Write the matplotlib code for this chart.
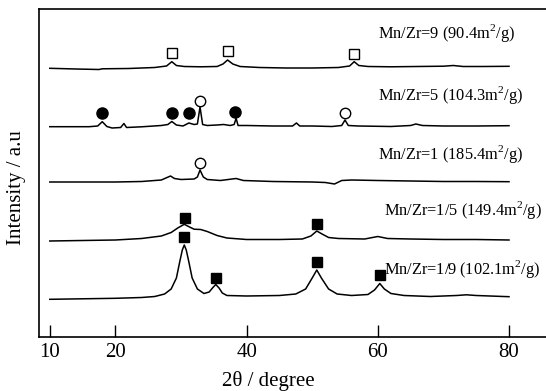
import matplotlib
matplotlib.use("Agg")
import matplotlib.pyplot as plt

plt.rcParams['font.family'] = ['Liberation Serif', 'DejaVu Serif']
plt.rcParams['mathtext.fontset'] = 'custom'
plt.rcParams['mathtext.rm'] = 'Liberation Serif'

# ---- data (2theta in degree, intensity in a.u. incl. vertical offset) ----
theta_9 = [10, 14, 17.5, 18, 22, 26, 27.8, 28.6, 29.3, 30.5, 33, 35.5, 36.4, 37.1, 37.9, 39, 42, 46, 50,
           54, 55.7, 56.4, 57.1, 58.5, 62, 66, 70, 71.5, 73, 76, 80]
int_9 = [268.7, 268, 267.5, 268.2, 268.5, 269.5, 271, 275.3, 271.5, 270.5, 270.2, 270.5, 273, 277, 273,
         270.5, 269.5, 269, 269, 269.5, 271, 275.3, 271.5, 270.5, 270.2, 270.5, 270.8, 271.5, 270.5, 270.5, 270.7]

theta_5 = [10, 13, 16, 17.3, 18.0, 18.7, 19.5, 20.8, 21.3, 21.7, 24, 27, 28, 28.6, 29.3, 30.3, 31.2, 32.0,
           32.5, 32.9, 33.3, 34, 35.5, 36.5, 37.5, 38.1, 38.4, 38.7, 40, 44, 47, 47.6, 48.1, 50, 53, 54.5,
           55.0, 55.5, 57, 62, 65, 65.8, 66.8, 70, 75, 80]
int_5 = [210.3, 210.3, 210.3, 211, 215.3, 210.5, 209, 209.5, 213.5, 209.5, 210.2, 211.5, 212.5, 215.5, 212,
         211, 214, 212.5, 213, 230, 212.5, 211.5, 212, 212.5, 211.5, 212.5, 218.7, 211.5, 211.5, 211, 211,
         214, 211, 211, 210.5, 211.5, 217, 211.5, 211, 210.5, 211.5, 213, 211.5, 211, 211, 211.3]

theta_1 = [10, 15, 20, 24, 27, 28.4, 29, 30, 32, 32.5, 32.9, 33.4, 34, 36, 38.4, 39.5, 44, 50, 52, 53.4,
           54.5, 56, 60, 65, 70, 75, 80]
int_1 = [155, 155, 155, 155.5, 157, 161, 158.5, 157.5, 158, 160, 167, 160, 157.5, 156.5, 158.5, 156.5,
         155.5, 155, 154.5, 153, 156.5, 157, 156.5, 156, 155.5, 155.5, 155.3]

theta_15 = [10, 15, 20, 24, 27, 28.5, 29.5, 30.5, 31.3, 32.0, 33, 34, 35.5, 37, 40, 45, 48.5, 49.8, 50.7,
            51.5, 52.5, 54, 58, 60, 61.5, 65, 70, 75, 80]
int_15 = [96, 96.5, 97, 98.5, 101, 104.5, 109, 112.7, 110, 107.8, 107.5, 105.5, 101.5, 99, 97.5, 97.5, 98,
          101, 106, 103, 99.5, 98.5, 98, 100.5, 98.5, 98, 97.5, 97.5, 97]

theta_19 = [10, 15, 20, 24, 26, 27.5, 28.5, 29.3, 29.8, 30.2, 30.5, 30.8, 31.2, 31.7, 32.5, 33.5, 34.3,
            34.8, 35.3, 35.8, 36.3, 37, 40, 45, 47.5, 49, 50, 50.7, 51.4, 52.5, 53.8, 56, 58.5, 59.5,
            60.3, 61, 62, 64, 68, 72, 73.5, 75, 80]
int_19 = [37.7, 38.2, 38.7, 39.5, 40.5, 43, 48, 59, 75, 87, 92, 87, 75, 59, 48, 43.5, 45, 49, 52.5, 49,
          44, 41.5, 41, 41.5, 43, 48, 59, 67, 59, 48, 43, 41.5, 42.5, 47, 53.5, 48, 43.5, 41.5, 40.5,
          41.5, 42.2, 41.5, 40.3]

# phase markers (2theta, height)
open_sq_x = [28.6, 37.1, 56.4]
open_sq_y = [283.7, 286, 283]
filled_circ_x = [18.0, 28.7, 31.2, 38.3]
filled_circ_y = [223.7, 223.7, 223.7, 224.7]
open_circ_x = [32.9, 55.0, 32.9]
open_circ_y = [236, 223.7, 173.7]
filled_sq_x = [30.6, 50.7, 30.5, 35.3, 50.7, 60.3]
filled_sq_y = [119.3, 112.7, 100.3, 59.3, 75.3, 62]

labels = ["Mn/Zr=9 (90.4m$^2$/g)", "Mn/Zr=5 (104.3m$^2$/g)", "Mn/Zr=1 (185.4m$^2$/g)",
          "Mn/Zr=1/5 (149.4m$^2$/g)", "Mn/Zr=1/9 (102.1m$^2$/g)"]
label_x = [60.0, 60.0, 60.0, 61.0, 61.0]
label_y = [304, 242, 183, 127, 67.7]

xticks = [10, 20, 40, 60, 80]

# ---- figure ----
fig = plt.figure(figsize=(5.46, 3.91), dpi=100)
ax = fig.add_axes([39 / 546, 54 / 391, 1 - 39 / 546, (337 - 9) / 391])

for tx, iy in [(theta_9, int_9), (theta_5, int_5), (theta_1, int_1), (theta_15, int_15), (theta_19, int_19)]:
    ax.plot(tx, iy, color='black', lw=1.1, solid_joinstyle='round')

ax.plot(open_sq_x, open_sq_y, ls='none', marker='s', ms=7, mfc='white', mec='black', mew=1.0)
ax.plot(filled_circ_x, filled_circ_y, ls='none', marker='o', ms=8, mfc='black', mec='black')
ax.plot(open_circ_x, open_circ_y, ls='none', marker='o', ms=7.5, mfc='white', mec='black', mew=1.0)
ax.plot(filled_sq_x, filled_sq_y, ls='none', marker='s', ms=7.5, mfc='black', mec='black')

for s, x, y in zip(labels, label_x, label_y):
    ax.text(x, y, s, fontsize=11.8, va='center', ha='left')

ax.set_xlim(8.354, 85.64)
ax.set_ylim(0, 328)
ax.set_xticks(xticks)
ax.set_xticklabels([str(t) for t in xticks])
ax.set_yticks([])
ax.tick_params(axis='x', direction='in', length=8.6, width=1.0, labelsize=15, pad=4)
for sp in ['left', 'bottom', 'top']:
    ax.spines[sp].set_linewidth(1.2)
ax.spines['right'].set_visible(False)

ax.set_xlabel("2\u03b8 / degree", fontsize=15)
ax.xaxis.set_label_coords(0.452, -0.104)
ax.set_ylabel("Intensity / a.u", fontsize=15)
ax.yaxis.set_label_coords(-0.026, 0.457)

fig.savefig("out.png", dpi=100)
